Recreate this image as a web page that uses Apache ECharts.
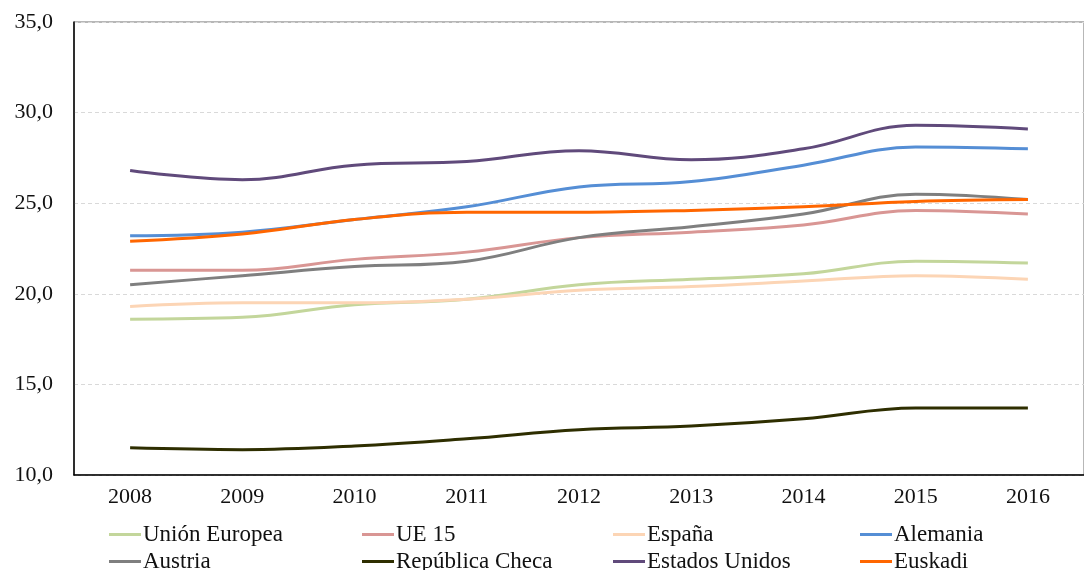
<!DOCTYPE html>
<html>
<head>
<meta charset="utf-8">
<script src="https://cdn.jsdelivr.net/npm/echarts@6/dist/echarts.min.js"></script>
<style>
  html, body { margin: 0; padding: 0; background: #fff; }
  #chart { width: 1084px; height: 570px; }
</style>
</head>
<body>
<div id="chart"></div>
<script>
// Years on the category axis
const years = ['2008', '2009', '2010', '2011', '2012', '2013', '2014', '2015', '2016'];

// Series values (%)
const unionEuropea   = [18.6, 18.7, 19.4, 19.7, 20.5, 20.8, 21.1, 21.8, 21.7];
const ue15           = [21.3, 21.3, 21.9, 22.3, 23.1, 23.4, 23.8, 24.6, 24.4];
const espana         = [19.3, 19.5, 19.5, 19.7, 20.2, 20.4, 20.7, 21.0, 20.8];
const alemania       = [23.2, 23.4, 24.1, 24.8, 25.9, 26.2, 27.1, 28.1, 28.0];
const austria        = [20.5, 21.0, 21.5, 21.8, 23.1, 23.7, 24.4, 25.5, 25.2];
const republicaCheca = [11.5, 11.4, 11.6, 12.0, 12.5, 12.7, 13.1, 13.7, 13.7];
const estadosUnidos  = [26.8, 26.3, 27.1, 27.3, 27.9, 27.4, 28.0, 29.3, 29.1];
const euskadi        = [22.9, 23.3, 24.1, 24.5, 24.5, 24.6, 24.8, 25.1, 25.2];

const seriesList = [
  { name: 'Unión Europea',    data: unionEuropea,   color: '#c3d69b' },
  { name: 'UE 15',            data: ue15,           color: '#d99694' },
  { name: 'España',           data: espana,         color: '#fcd5b5' },
  { name: 'Alemania',         data: alemania,       color: '#558ed5' },
  { name: 'Austria',          data: austria,        color: '#7f7f7f' },
  { name: 'República Checa',  data: republicaCheca, color: '#2e2e00' },
  { name: 'Estados Unidos',   data: estadosUnidos,  color: '#604a7b' },
  { name: 'Euskadi',          data: euskadi,        color: '#ff6600' }
];

// Legend grid: four columns, two rows (series order fills row by row)
const legendColX = [109, 362, 613, 860];
const legendRowY = [523, 550];

const font = '"Liberation Serif", serif';

const chart = echarts.init(document.getElementById('chart'), null, { renderer: 'canvas' });

chart.setOption({
  animation: false,
  backgroundColor: '#ffffff',
  textStyle: { fontFamily: font },
  grid: {
    left: 74, top: 22, right: -12, bottom: 95,
    show: true, borderColor: '#6e6e6e', borderWidth: 1
  },
  xAxis: {
    type: 'category',
    data: years,
    boundaryGap: true,
    axisLine: { lineStyle: { color: '#000', width: 1.5 } },
    axisTick: { show: false },
    axisLabel: { color: '#111', fontFamily: font, fontSize: 22, margin: 11 }
  },
  yAxis: {
    type: 'value',
    min: 10, max: 35, interval: 5,
    axisLine: { show: true, lineStyle: { color: '#000', width: 1.5 } },
    axisTick: { show: false },
    splitLine: { lineStyle: { color: '#d9d9d9', type: [4, 3], width: 1 } },
    axisLabel: {
      color: '#111', fontFamily: font, fontSize: 22, margin: 21,
      formatter: v => v.toFixed(1).replace('.', ',')
    }
  },
  legend: seriesList.map((s, i) => ({
    left: legendColX[i % 4],
    top: legendRowY[Math.floor(i / 4)],
    padding: 0,
    itemWidth: 32,
    itemHeight: 3,
    icon: 'rect',
    data: [s.name],
    textStyle: { color: '#111', fontFamily: font, fontSize: 23, lineHeight: 22, padding: [0, 0, 0, -3] }
  })),
  series: seriesList.map(s => ({
    name: s.name,
    type: 'line',
    data: s.data,
    smooth: 0.4,
    showSymbol: false,
    symbol: 'none',
    color: s.color,
    lineStyle: { color: s.color, width: 3 },
    itemStyle: { color: s.color }
  }))
});
</script>
</body>
</html>
